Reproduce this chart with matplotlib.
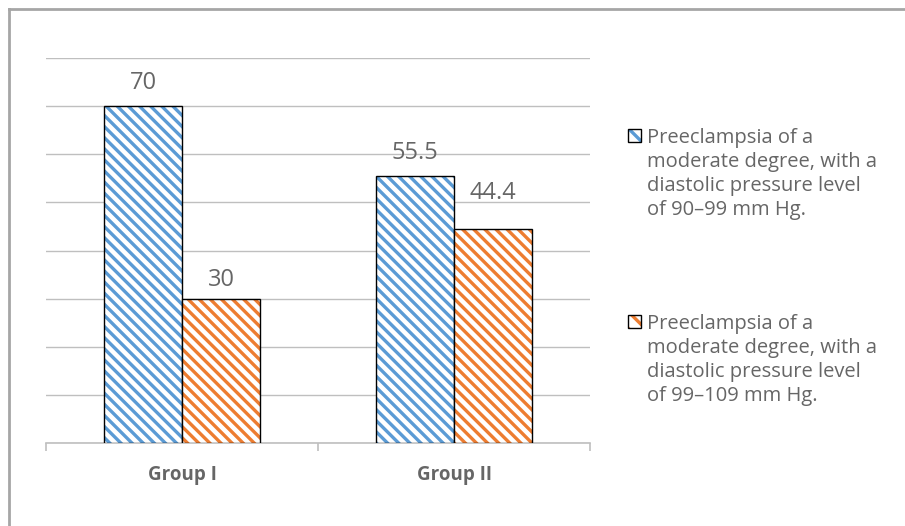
import matplotlib.pyplot as plt
import numpy as np
from matplotlib.colors import to_rgba
from matplotlib.patches import Rectangle
from matplotlib.lines import Line2D

# Data
groups = ['Group I', 'Group II']
moderate_90_99 = [70, 55.5]
moderate_99_109 = [30, 44.4]
series_labels = ['Preeclampsia of a\nmoderate degree, with a\ndiastolic pressure level\nof 90\u201399 mm Hg.',
                 'Preeclampsia of a\nmoderate degree, with a\ndiastolic pressure level\nof 99\u2013109 mm Hg.']
value_labels = [['70', '55.5'], ['30', '44.4']]

# Styles
colors = ['#5B9BD5', '#ED7D31']
text_gray = '#666666'
grid_gray = '#BFBFBF'
label_offsets = [[23, 23], [19, 36]]

plt.rcParams['font.family'] = ['Open Sans', 'DejaVu Sans']
plt.rcParams['hatch.linewidth'] = 2.4

W, H = 905, 526
fig = plt.figure(figsize=(W / 100, H / 100), dpi=100)
ax = fig.add_axes([46 / W, 1 - 443 / H, 544 / W, 385 / H])

x = np.arange(len(groups))
width = 0.287
series = [moderate_90_99, moderate_99_109]
for i, vals in enumerate(series):
    pos = x + (i - 0.5) * width
    bars = ax.bar(pos, vals, width, color='white', edgecolor='black', linewidth=1.0,
                  hatch='\\\\\\', zorder=3)
    for b in bars:
        b._hatch_color = to_rgba(colors[i])
    for j, b in enumerate(bars):
        ax.annotate(value_labels[i][j], (b.get_x() + b.get_width() / 2, b.get_height()),
                    xytext=(0, label_offsets[i][j]), textcoords='offset pixels',
                    ha='center', va='center', fontsize=17, color=text_gray)

ax.set_xlim(-0.5, 1.5)
ax.set_ylim(0, 80)
ax.set_yticks(np.arange(0, 81, 10))
ax.yaxis.grid(True, color=grid_gray, linewidth=1.0)
ax.set_axisbelow(True)
ax.tick_params(axis='y', left=False, labelleft=False)
for s in ['top', 'right', 'left']:
    ax.spines[s].set_visible(False)
ax.spines['bottom'].set_color(grid_gray)
ax.spines['bottom'].set_linewidth(1.2)

ax.set_xticks(x)
ax.set_xticklabels(groups, fontsize=13.5, fontweight='bold', color=text_gray)
ax.tick_params(axis='x', length=0, pad=16)
ax.set_xticks([-0.5, 0.5, 1.5], minor=True)
ax.tick_params(axis='x', which='minor', length=6, color=grid_gray, width=1.2)

# Legend drawn by hand so the square sits beside the first line
legend_tops = [129, 315]
for i in range(2):
    sq = Rectangle((628 / W, 1 - (legend_tops[i] + 13) / H), 13 / W, 13 / H,
                   transform=fig.transFigure, facecolor='white', edgecolor='black',
                   linewidth=1.0, hatch='\\\\')
    sq._hatch_color = to_rgba(colors[i])
    fig.patches.append(sq)
    fig.text(647 / W, 1 - (legend_tops[i] - 1) / H, series_labels[i], ha='left', va='top',
             fontsize=14.5, color=text_gray, linespacing=1.27)

# Chart border (top and left edges visible)
fig.add_artist(Line2D([9 / W, 9 / W], [0, 1 - 9 / H], transform=fig.transFigure,
                      color='#A6A6A6', linewidth=2))
fig.add_artist(Line2D([9 / W, 1], [1 - 9 / H, 1 - 9 / H], transform=fig.transFigure,
                      color='#A6A6A6', linewidth=2))

plt.savefig('out.png', dpi=100)
plt.close()
